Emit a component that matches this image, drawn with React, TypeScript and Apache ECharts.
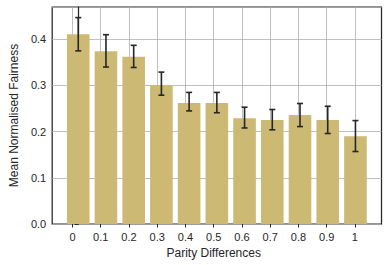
import React, { useEffect, useRef } from "react";
import * as echarts from "echarts";

const categories = ["0", "0.1", "0.2", "0.3", "0.4", "0.5", "0.6", "0.7", "0.8", "0.9", "1"];
const meanValues = [0.411, 0.374, 0.362, 0.301, 0.262, 0.262, 0.229, 0.225, 0.236, 0.225, 0.19];
const errLow = [0.375, 0.34, 0.339, 0.279, 0.245, 0.241, 0.208, 0.204, 0.211, 0.196, 0.157];
const errHigh = [0.447, 0.41, 0.387, 0.329, 0.285, 0.285, 0.253, 0.248, 0.261, 0.255, 0.224];
const yTicks = [0, 0.1, 0.2, 0.3, 0.4];

const FONT = "'Liberation Sans', Arial, sans-serif";
const TXT = "#262626";

export default function App() {
  const ref = useRef<HTMLDivElement>(null);
  useEffect(() => {
    if (!ref.current) return;
    const chart = echarts.init(ref.current, null, { renderer: "svg" });
    const barData = meanValues.map((v, i) => [i, v]);
    const errData = meanValues.map((_, i) => [i, errLow[i], errHigh[i]]);
    chart.setOption({
      animation: false,
      textStyle: { fontFamily: FONT },
      grid: [
        { left: 46, right: 6.5, top: 7, bottom: 41, show: true, borderColor: TXT, borderWidth: 1.25, backgroundColor: "transparent" },
        { left: 72.5, right: 33.1, top: 7, bottom: 41 },
      ],
      xAxis: [
        { type: "value", gridIndex: 0, min: -0.94, max: 10.94, show: false },
        {
          type: "value",
          gridIndex: 1,
          min: 0,
          max: 10,
          interval: 1,
          name: "Parity Differences",
          nameLocation: "middle",
          nameGap: 22,
          nameTextStyle: { fontSize: 12, color: TXT, fontFamily: FONT },
          axisLine: { show: false },
          axisTick: { show: true, length: 3.5, lineStyle: { color: TXT, width: 1 } },
          axisLabel: {
            fontSize: 11,
            color: TXT,
            margin: 7,
            fontFamily: FONT,
            formatter: (v: number) => categories[Math.round(v)] ?? "",
          },
          splitLine: { show: true, lineStyle: { color: "#b0b0b0", width: 0.8 } },
        },
      ],
      yAxis: [
        {
          type: "value",
          gridIndex: 0,
          min: 0,
          max: 0.47,
          interval: 0.1,
          name: "Mean Normalised Fairness",
          nameLocation: "middle",
          nameGap: 32,
          nameTextStyle: { fontSize: 12, color: TXT, fontFamily: FONT },
          axisLine: { show: true, lineStyle: { color: TXT, width: 1.25 } },
          axisTick: { show: true, length: 3.5, lineStyle: { color: TXT, width: 1 } },
          axisLabel: {
            fontSize: 11,
            color: TXT,
            margin: 6,
            fontFamily: FONT,
            showMaxLabel: false,
            formatter: (v: number) => (yTicks.some((t) => Math.abs(t - v) < 1e-6) ? v.toFixed(1) : ""),
          },
          splitLine: { show: true, lineStyle: { color: "#b0b0b0", width: 0.8 } },
        },
        { type: "value", gridIndex: 1, min: 0, max: 0.47, show: false },
      ],
      series: [
        {
          type: "bar",
          xAxisIndex: 0,
          yAxisIndex: 0,
          data: barData,
          barWidth: 22.6,
          itemStyle: { color: "#ccb974" },
          z: 2,
        },
        {
          type: "custom",
          xAxisIndex: 0,
          yAxisIndex: 0,
          data: errData,
          z: 3,
          renderItem: (params: any, api: any) => {
            const x = api.value(0);
            const lo = api.coord([x, api.value(1)]);
            const hi = api.coord([x, api.value(2)]);
            const cap = 3;
            const style = { stroke: "#262626", lineWidth: 1.6 };
            return {
              type: "group",
              children: [
                { type: "line", shape: { x1: lo[0], y1: lo[1], x2: hi[0], y2: hi[1] }, style },
                { type: "line", shape: { x1: hi[0] - cap, y1: hi[1], x2: hi[0] + cap, y2: hi[1] }, style },
                { type: "line", shape: { x1: lo[0] - cap, y1: lo[1], x2: lo[0] + cap, y2: lo[1] }, style },
              ],
            };
          },
        },
      ],
    });
    return () => chart.dispose();
  }, []);
  return <div ref={ref} style={{ width: 388, height: 265, position: "absolute", left: 0, top: 0 }} />;
}
